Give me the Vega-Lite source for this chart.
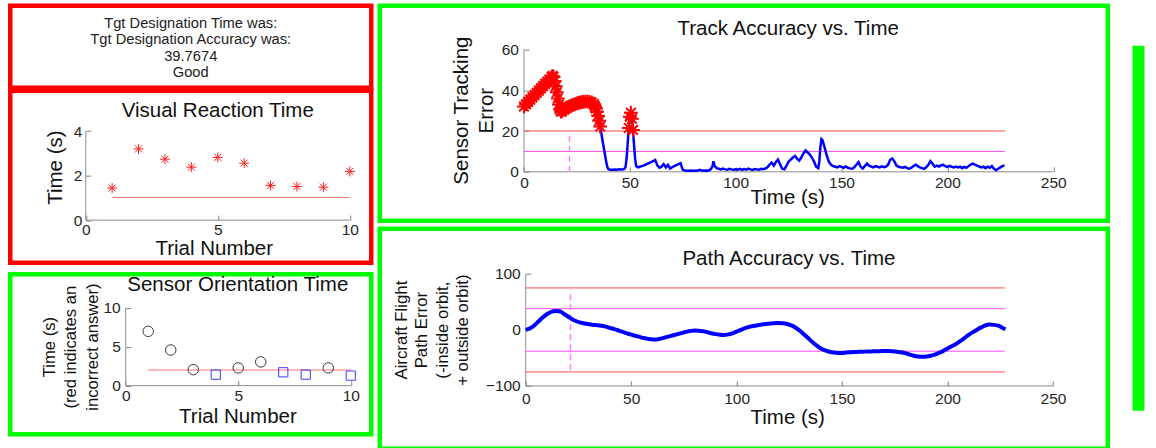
{
  "$schema": "https://vega.github.io/schema/vega-lite/v6.json",
  "padding": {"left": 7.25, "top": 3.25, "right": 6, "bottom": 0},
  "background": "white",
  "config": {
    "view": {"stroke": null},
    "font": "Liberation Sans",
    "axis": {"zindex": 1, "domain": false, "grid": false, "ticks": true, "tickSize": -5, "tickColor": "#808080", "tickWidth": 1, "labelFont": "Liberation Sans", "labelFontSize": 15.5, "labelColor": "#262626", "labelFlush": false, "labelOverlap": false, "titleFont": "Liberation Sans", "titleFontWeight": "normal", "titleColor": "#111111", "titleAlign": "center", "titleBaseline": "alphabetic", "titlePadding": 0},
    "axisY": {"titleAngle": 270}
  },
  "datasets": {
    "vrt": [{"trial":1,"time":1.44},{"trial":2,"time":3.2},{"trial":3,"time":2.74},{"trial":4,"time":2.38},{"trial":5,"time":2.82},{"trial":6,"time":2.56},{"trial":7,"time":1.56},{"trial":8,"time":1.51},{"trial":9,"time":1.48},{"trial":10,"time":2.19}],
    "sot": [{"trial":1,"time":6.96,"group":"A"},{"trial":2,"time":4.57,"group":"A"},{"trial":3,"time":2.05,"group":"A"},{"trial":4,"time":1.41,"group":"B"},{"trial":5,"time":2.27,"group":"A"},{"trial":6,"time":3.04,"group":"A"},{"trial":7,"time":1.71,"group":"B"},{"trial":8,"time":1.41,"group":"B"},{"trial":9,"time":2.27,"group":"A"},{"trial":10,"time":1.28,"group":"B"}],
    "track": [
      {"t":0,"e":32.0},{"t":1,"e":33.1},{"t":2,"e":34.3},{"t":3,"e":35.4},{"t":4,"e":36.5},{"t":5,"e":37.6},{"t":6,"e":38.7},{"t":7,"e":39.8},{"t":8,"e":40.9},{"t":9,"e":42.0},{"t":10,"e":43.1},{"t":11,"e":44.2},{"t":12,"e":45.3},{"t":13,"e":46.4},{"t":13.5,"e":47.0},{"t":14,"e":46.5},{"t":14.5,"e":44.5},{"t":15,"e":42.0},{"t":15.5,"e":39.0},{"t":16,"e":36.0},{"t":16.5,"e":33.0},{"t":17,"e":30.5},{"t":17.5,"e":29.5},{"t":18,"e":29.8},{"t":19,"e":30.5},{"t":20,"e":31.2},{"t":21,"e":31.8},{"t":22,"e":32.3},{"t":23,"e":32.8},{"t":24,"e":33.2},{"t":25,"e":33.6},{"t":26,"e":33.9},{"t":27,"e":34.1},{"t":28,"e":34.3},{"t":29,"e":34.4},{"t":30,"e":34.4},{"t":31,"e":34.3},{"t":32,"e":34.0},{"t":33,"e":33.2},{"t":33.5,"e":32.2},{"t":34,"e":31.0},{"t":34.5,"e":29.5},{"t":35,"e":27.5},{"t":35.5,"e":25.0},{"t":36,"e":22.2},{"t":36.5,"e":19.2},{"t":37,"e":16.0},{"t":37.5,"e":13.0},{"t":38,"e":10.0},{"t":38.5,"e":7.0},{"t":39,"e":4.0},{"t":39.5,"e":2.0},{"t":40,"e":1.2},{"t":41,"e":1.0},{"t":42,"e":1.0},{"t":43,"e":1.1},{"t":44,"e":1.0},{"t":45,"e":1.2},{"t":46,"e":1.1},{"t":47,"e":1.3},{"t":47.5,"e":1.5},{"t":48,"e":2.5},{"t":48.5,"e":7.0},{"t":49,"e":14.0},{"t":49.5,"e":21.5},{"t":50,"e":27.0},{"t":50.5,"e":29.0},{"t":51,"e":26.0},{"t":51.5,"e":20.5},{"t":52,"e":13.0},{"t":52.5,"e":6.5},{"t":53,"e":2.8},{"t":54,"e":2.2},{"t":55,"e":2.6},{"t":56,"e":2.9},{"t":57,"e":3.3},{"t":58,"e":3.8},{"t":59,"e":4.3},{"t":60,"e":4.8},{"t":61,"e":5.3},{"t":62,"e":5.8},{"t":62.5,"e":4.5},{"t":63,"e":3.2},{"t":64,"e":2.0},{"t":65,"e":2.5},{"t":66,"e":3.8},{"t":67,"e":2.2},{"t":68,"e":3.4},{"t":69,"e":1.6},{"t":70,"e":2.3},{"t":71,"e":2.8},{"t":72,"e":3.3},{"t":73,"e":3.8},{"t":74,"e":4.2},{"t":74.5,"e":2.5},{"t":75,"e":1.0},{"t":76,"e":0.6},{"t":77,"e":0.5},{"t":78,"e":0.5},{"t":79,"e":0.6},{"t":80,"e":0.5},{"t":81,"e":0.5},{"t":82,"e":0.6},{"t":83,"e":1.0},{"t":84,"e":0.6},{"t":85,"e":0.5},{"t":86,"e":0.7},{"t":87,"e":0.6},{"t":88,"e":1.0},{"t":89,"e":2.5},{"t":89.5,"e":5.2},{"t":90,"e":3.0},{"t":91,"e":1.8},{"t":92,"e":1.5},{"t":93,"e":1.2},{"t":94,"e":1.6},{"t":95,"e":1.2},{"t":96,"e":1.0},{"t":97,"e":1.5},{"t":98,"e":1.2},{"t":99,"e":1.0},{"t":100,"e":1.3},{"t":101,"e":1.1},{"t":102,"e":1.5},{"t":103,"e":1.0},{"t":104,"e":1.4},{"t":105,"e":1.1},{"t":106,"e":1.6},{"t":107,"e":1.2},{"t":108,"e":0.9},{"t":109,"e":1.4},{"t":110,"e":1.2},{"t":111,"e":1.0},{"t":112,"e":1.5},{"t":113,"e":1.3},{"t":114,"e":1.6},{"t":115,"e":2.2},{"t":116,"e":3.5},{"t":117,"e":4.5},{"t":118,"e":3.0},{"t":119,"e":4.8},{"t":120,"e":6.0},{"t":121,"e":3.5},{"t":122,"e":1.5},{"t":123,"e":1.2},{"t":124,"e":3.0},{"t":125,"e":5.0},{"t":126,"e":6.0},{"t":127,"e":7.0},{"t":128,"e":7.8},{"t":129,"e":6.5},{"t":130,"e":5.5},{"t":131,"e":7.0},{"t":132,"e":9.0},{"t":133,"e":10.5},{"t":134,"e":9.5},{"t":135,"e":8.5},{"t":136,"e":7.0},{"t":137,"e":5.0},{"t":138,"e":2.5},{"t":139,"e":1.8},{"t":139.5,"e":5.0},{"t":140,"e":12.0},{"t":140.5,"e":16.0},{"t":141,"e":15.5},{"t":142,"e":12.0},{"t":143,"e":8.0},{"t":144,"e":5.0},{"t":145,"e":3.5},{"t":146,"e":2.8},{"t":147,"e":2.5},{"t":148,"e":2.2},{"t":149,"e":2.8},{"t":150,"e":2.4},{"t":151,"e":2.0},{"t":152,"e":2.6},{"t":153,"e":2.0},{"t":154,"e":1.7},{"t":155,"e":1.5},{"t":156,"e":2.2},{"t":157,"e":3.5},{"t":158,"e":4.8},{"t":159,"e":2.5},{"t":160,"e":1.6},{"t":161,"e":2.8},{"t":162,"e":4.0},{"t":163,"e":3.0},{"t":164,"e":2.6},{"t":165,"e":2.2},{"t":166,"e":2.8},{"t":167,"e":2.5},{"t":168,"e":2.2},{"t":169,"e":2.7},{"t":170,"e":2.3},{"t":171,"e":2.6},{"t":172,"e":3.5},{"t":173,"e":6.0},{"t":174,"e":6.5},{"t":175,"e":5.0},{"t":176,"e":3.0},{"t":177,"e":2.5},{"t":178,"e":2.2},{"t":179,"e":2.0},{"t":180,"e":2.4},{"t":181,"e":1.8},{"t":182,"e":1.5},{"t":183,"e":2.0},{"t":184,"e":2.8},{"t":185,"e":3.5},{"t":186,"e":2.8},{"t":187,"e":2.2},{"t":188,"e":1.8},{"t":189,"e":1.5},{"t":190,"e":2.2},{"t":191,"e":3.5},{"t":192,"e":5.2},{"t":193,"e":4.0},{"t":194,"e":2.5},{"t":195,"e":3.0},{"t":196,"e":2.6},{"t":197,"e":3.2},{"t":198,"e":3.4},{"t":199,"e":2.8},{"t":200,"e":2.4},{"t":201,"e":2.9},{"t":202,"e":2.5},{"t":203,"e":2.2},{"t":204,"e":2.6},{"t":205,"e":2.2},{"t":206,"e":2.5},{"t":207,"e":1.8},{"t":208,"e":2.4},{"t":209,"e":2.0},{"t":210,"e":2.8},{"t":211,"e":3.6},{"t":212,"e":4.0},{"t":213,"e":3.5},{"t":214,"e":3.0},{"t":215,"e":2.6},{"t":216,"e":2.2},{"t":217,"e":2.5},{"t":218,"e":1.8},{"t":219,"e":2.5},{"t":220,"e":2.0},{"t":221,"e":2.8},{"t":222,"e":1.5},{"t":223,"e":0.8},{"t":224,"e":1.5},{"t":225,"e":2.2},{"t":226,"e":2.8},{"t":227,"e":3.2}
    ],
    "path": [
      {"t":0,"v":0},{"t":2,"v":3},{"t":4,"v":8},{"t":6,"v":15},{"t":8,"v":22},{"t":10,"v":28},{"t":12,"v":32},{"t":14,"v":34},{"t":16,"v":33.5},{"t":18,"v":29},{"t":20,"v":24},{"t":22,"v":19},{"t":24,"v":15.5},{"t":26,"v":13},{"t":28,"v":11.5},{"t":30,"v":10},{"t":32,"v":9},{"t":34,"v":8.5},{"t":36,"v":7.5},{"t":38,"v":6},{"t":40,"v":3.5},{"t":42,"v":1.5},{"t":44,"v":-1},{"t":46,"v":-3.5},{"t":48,"v":-6},{"t":50,"v":-8.5},{"t":52,"v":-10.5},{"t":54,"v":-12.5},{"t":56,"v":-14.5},{"t":58,"v":-16},{"t":60,"v":-17},{"t":62,"v":-17},{"t":64,"v":-15.5},{"t":66,"v":-13.5},{"t":68,"v":-11.5},{"t":70,"v":-9.5},{"t":72,"v":-7.5},{"t":74,"v":-5.5},{"t":76,"v":-3.5},{"t":78,"v":-2},{"t":80,"v":-1},{"t":82,"v":-1.5},{"t":84,"v":-2.5},{"t":86,"v":-4},{"t":88,"v":-6},{"t":90,"v":-7.5},{"t":92,"v":-8.5},{"t":94,"v":-9},{"t":96,"v":-8},{"t":98,"v":-6},{"t":100,"v":-3},{"t":102,"v":0},{"t":104,"v":3},{"t":106,"v":5.5},{"t":108,"v":7},{"t":110,"v":8.5},{"t":112,"v":9.5},{"t":114,"v":10.5},{"t":116,"v":11.5},{"t":118,"v":12},{"t":120,"v":12.5},{"t":122,"v":12},{"t":124,"v":10.5},{"t":126,"v":8},{"t":128,"v":4},{"t":130,"v":-1.5},{"t":132,"v":-8},{"t":134,"v":-15},{"t":136,"v":-22},{"t":138,"v":-28},{"t":140,"v":-33},{"t":142,"v":-36.5},{"t":144,"v":-39},{"t":146,"v":-40.5},{"t":148,"v":-41},{"t":150,"v":-41},{"t":152,"v":-40.5},{"t":154,"v":-40},{"t":156,"v":-39.5},{"t":158,"v":-39},{"t":160,"v":-39},{"t":162,"v":-38.5},{"t":164,"v":-38.5},{"t":166,"v":-38},{"t":168,"v":-38},{"t":170,"v":-37.5},{"t":172,"v":-37.5},{"t":174,"v":-38},{"t":176,"v":-39},{"t":178,"v":-40},{"t":180,"v":-41.5},{"t":182,"v":-44},{"t":184,"v":-46},{"t":186,"v":-47.5},{"t":188,"v":-48},{"t":190,"v":-47.5},{"t":192,"v":-46},{"t":194,"v":-44},{"t":196,"v":-41},{"t":198,"v":-37.5},{"t":200,"v":-33},{"t":202,"v":-29},{"t":204,"v":-25},{"t":206,"v":-20},{"t":208,"v":-14.5},{"t":210,"v":-9},{"t":212,"v":-4},{"t":214,"v":0.5},{"t":216,"v":4.5},{"t":218,"v":8},{"t":220,"v":9.5},{"t":222,"v":9},{"t":224,"v":7.5},{"t":226,"v":4},{"t":227.5,"v":1}
    ]
  },
  "hconcat": [
    {
      "hconcat": [
        {
          "vconcat": [
            {
              "vconcat": [
                {
                  "width": 361, "height": 82,
                  "view": {"stroke": "#ff0000", "strokeWidth": 4.5},
                  "data": {"values": [{"msg": "Tgt Designation Time was:\nTgt Designation Accuracy was:\n39.7674\nGood"}]},
                  "mark": {"type": "text", "lineBreak": "\n", "fontSize": 14.7, "lineHeight": 16.6, "baseline": "middle", "align": "center", "color": "#222222", "dy": -23},
                  "encoding": {"text": {"field": "msg", "type": "nominal"}}
                },
                {
                  "width": 361, "height": 172,
                  "view": {"stroke": "#ff0000", "strokeWidth": 4.5},
                  "layer": [
                    {"data": {"values": [{}]}, "mark": {"type": "rule", "color": "#8c8c8c"},
                     "encoding": {
                       "x": {"datum": 0, "scale": {"domain": [-2.86, 10.814], "nice": false, "zero": false}},
                       "x2": {"datum": 10},
                       "y": {"datum": 0, "scale": {"domain": [-1.91, 5.82], "nice": false, "zero": false}}
                     }},
                    {"data": {"values": [{}]}, "mark": {"type": "rule", "color": "#8c8c8c"},
                     "encoding": {
                       "x": {"datum": 0, "scale": {"domain": [-2.86, 10.814], "nice": false, "zero": false}},
                       "y": {"datum": 0, "scale": {"domain": [-1.91, 5.82], "nice": false, "zero": false}},
                       "y2": {"datum": 4}
                     }},
                    {"data": {"values": [{}]}, "mark": {"type": "rule", "color": "#ff7070"},
                     "encoding": {
                       "x": {"datum": 1, "scale": {"domain": [-2.86, 10.814], "nice": false, "zero": false}},
                       "x2": {"datum": 10},
                       "y": {"datum": 1.02, "scale": {"domain": [-1.91, 5.82], "nice": false, "zero": false}}
                     }},
                    {"data": {"name": "vrt"},
                     "mark": {"type": "point", "shape": "M-1,0L1,0M0,-1L0,1M-0.7,-0.7L0.7,0.7M-0.7,0.7L0.7,-0.7", "size": 100, "filled": false, "color": "#ff2020", "strokeWidth": 1, "opacity": 1},
                     "encoding": {
                       "x": {"field": "trial", "type": "quantitative", "scale": {"domain": [-2.86, 10.814], "nice": false, "zero": false}, "axis": {"values": [0, 5, 10], "offset": -42.5, "labelPadding": 7.5, "title": "Trial Number", "titleX": 203.5, "titleY": 34.5, "titleFontSize": 20.5}},
                       "y": {"field": "time", "type": "quantitative", "scale": {"domain": [-1.91, 5.82], "nice": false, "zero": false}, "axis": {"values": [0, 2, 4], "offset": -75.5, "labelPadding": 9, "title": "Time (s)", "titleX": -24.5, "titleY": 76.5, "titleFontSize": 20.5}}
                     }},
                    {"data": {"values": [{}]},
                     "mark": {"type": "text", "text": "Visual Reaction Time", "fontSize": 20.5, "baseline": "alphabetic", "align": "center", "color": "#111111"},
                     "encoding": {
                       "x": {"datum": 5, "scale": {"domain": [-2.86, 10.814], "nice": false, "zero": false}},
                       "y": {"datum": 4.616, "scale": {"domain": [-1.91, 5.82], "nice": false, "zero": false}}
                     }}
                  ]
                }
              ],
              "spacing": -4.5
            },
            {
              "width": 361, "height": 160,
              "view": {"stroke": "#00ff00", "strokeWidth": 4.5},
              "layer": [
                {"data": {"values": [{}]}, "mark": {"type": "rule", "color": "#8c8c8c"},
                 "encoding": {
                   "x": {"datum": 0, "scale": {"domain": [-5.133, 10.911], "nice": false, "zero": false}},
                   "x2": {"datum": 10},
                   "y": {"datum": 0, "scale": {"domain": [-6.218, 14.295], "nice": false, "zero": false}}
                 }},
                {"data": {"values": [{}]}, "mark": {"type": "rule", "color": "#8c8c8c"},
                 "encoding": {
                   "x": {"datum": 0, "scale": {"domain": [-5.133, 10.911], "nice": false, "zero": false}},
                   "y": {"datum": 0, "scale": {"domain": [-6.218, 14.295], "nice": false, "zero": false}},
                   "y2": {"datum": 10}
                 }},
                {"data": {"values": [{}]}, "mark": {"type": "rule", "color": "#ff7070"},
                 "encoding": {
                   "x": {"datum": 1, "scale": {"domain": [-5.133, 10.911], "nice": false, "zero": false}},
                   "x2": {"datum": 10},
                   "y": {"datum": 2, "scale": {"domain": [-6.218, 14.295], "nice": false, "zero": false}}
                 }},
                {"data": {"name": "sot"}, "transform": [{"filter": "datum.group === 'A'"}],
                 "mark": {"type": "point", "shape": "circle", "size": 110, "filled": false, "color": "#3a3a3a", "strokeWidth": 1, "opacity": 1},
                 "encoding": {
                   "x": {"field": "trial", "type": "quantitative", "scale": {"domain": [-5.133, 10.911], "nice": false, "zero": false}, "axis": {"values": [0, 5, 10], "offset": -48.5, "labelPadding": 8, "title": "Trial Number", "titleX": 227.2, "titleY": 37, "titleFontSize": 20.5}},
                   "y": {"field": "time", "type": "quantitative", "scale": {"domain": [-6.218, 14.295], "nice": false, "zero": false}, "axis": {"values": [0, 5, 10], "offset": -115.5, "labelPadding": 10.5, "title": ["Time (s)", "(red indicates an", "incorrect answer)"], "titleX": -71.4, "titleY": 72.5, "titleFontSize": 16.6, "titleLineHeight": 21.6}}
                 }},
                {"data": {"name": "sot"}, "transform": [{"filter": "datum.group === 'B'"}],
                 "mark": {"type": "point", "shape": "square", "size": 85, "filled": false, "color": "#3c3cff", "strokeWidth": 1, "opacity": 1},
                 "encoding": {
                   "x": {"field": "trial", "type": "quantitative", "scale": {"domain": [-5.133, 10.911], "nice": false, "zero": false}},
                   "y": {"field": "time", "type": "quantitative", "scale": {"domain": [-6.218, 14.295], "nice": false, "zero": false}}
                 }},
                {"data": {"values": [{}]},
                 "mark": {"type": "text", "text": "Sensor Orientation Time", "fontSize": 20.5, "baseline": "alphabetic", "align": "center", "color": "#111111"},
                 "encoding": {
                   "x": {"datum": 4.98, "scale": {"domain": [-5.133, 10.911], "nice": false, "zero": false}},
                   "y": {"datum": 12.15, "scale": {"domain": [-6.218, 14.295], "nice": false, "zero": false}}
                 }}
              ]
            }
          ],
          "spacing": 5.5
        },
        {
          "vconcat": [
            {
              "width": 728, "height": 215,
              "view": {"stroke": "#00ff00", "strokeWidth": 4.5},
              "layer": [
                {"data": {"values": [{}]}, "mark": {"type": "rule", "color": "#8c8c8c"},
                 "encoding": {
                   "x": {"datum": 0, "scale": {"domain": [-68.12, 275.74], "nice": false, "zero": false}},
                   "x2": {"datum": 250},
                   "y": {"datum": 0, "scale": {"domain": [-23.92, 81.47], "nice": false, "zero": false}}
                 }},
                {"data": {"values": [{}]}, "mark": {"type": "rule", "color": "#8c8c8c"},
                 "encoding": {
                   "x": {"datum": 0, "scale": {"domain": [-68.12, 275.74], "nice": false, "zero": false}},
                   "y": {"datum": 0, "scale": {"domain": [-23.92, 81.47], "nice": false, "zero": false}},
                   "y2": {"datum": 60}
                 }},
                {"data": {"values": [{}]}, "mark": {"type": "rule", "color": "#ff4d4d"},
                 "encoding": {
                   "x": {"datum": 0, "scale": {"domain": [-68.12, 275.74], "nice": false, "zero": false}},
                   "x2": {"datum": 227.2},
                   "y": {"datum": 20, "scale": {"domain": [-23.92, 81.47], "nice": false, "zero": false}}
                 }},
                {"data": {"values": [{}]}, "mark": {"type": "rule", "color": "#ff4dff"},
                 "encoding": {
                   "x": {"datum": 0, "scale": {"domain": [-68.12, 275.74], "nice": false, "zero": false}},
                   "x2": {"datum": 227.2},
                   "y": {"datum": 10, "scale": {"domain": [-23.92, 81.47], "nice": false, "zero": false}}
                 }},
                {"data": {"values": [{}]}, "mark": {"type": "rule", "color": "#ff80ff", "strokeDash": [6, 4], "strokeWidth": 1.5},
                 "encoding": {
                   "x": {"datum": 21.5, "scale": {"domain": [-68.12, 275.74], "nice": false, "zero": false}},
                   "y": {"datum": 0, "scale": {"domain": [-23.92, 81.47], "nice": false, "zero": false}},
                   "y2": {"datum": 20}
                 }},
                {"data": {"name": "track"},
                 "mark": {"type": "line", "color": "#0000ff", "strokeWidth": 2.5},
                 "encoding": {
                   "x": {"field": "t", "type": "quantitative", "scale": {"domain": [-68.12, 275.74], "nice": false, "zero": false}, "axis": {"values": [0, 50, 100, 150, 200, 250], "offset": -48.8, "labelPadding": 9, "title": "Time (s)", "titleX": 407.5, "titleY": 31.6, "titleFontSize": 20.5}},
                   "y": {"field": "e", "type": "quantitative", "scale": {"domain": [-23.92, 81.47], "nice": false, "zero": false}, "axis": {"values": [0, 20, 40, 60], "offset": -144.2, "labelPadding": 10.5, "title": ["Sensor Tracking", "Error"], "titleX": -56.2, "titleY": 104.5, "titleFontSize": 20.5, "titleLineHeight": 25}}
                 }},
                {"data": {"name": "track"}, "transform": [{"filter": "datum.e > 20"}],
                 "mark": {"type": "point", "shape": "M-1,0L1,0M0,-1L0,1M-0.7,-0.7L0.7,0.7M-0.7,0.7L0.7,-0.7", "size": 190, "filled": false, "color": "#ff0000", "strokeWidth": 2, "opacity": 1},
                 "encoding": {
                   "x": {"field": "t", "type": "quantitative", "scale": {"domain": [-68.12, 275.74], "nice": false, "zero": false}},
                   "y": {"field": "e", "type": "quantitative", "scale": {"domain": [-23.92, 81.47], "nice": false, "zero": false}}
                 }},
                {"data": {"values": [{}]},
                 "mark": {"type": "text", "text": "Track Accuracy vs. Time", "fontSize": 20.5, "baseline": "alphabetic", "align": "center", "color": "#111111"},
                 "encoding": {
                   "x": {"datum": 124.8, "scale": {"domain": [-68.12, 275.74], "nice": false, "zero": false}},
                   "y": {"datum": 67.0, "scale": {"domain": [-23.92, 81.47], "nice": false, "zero": false}}
                 }}
              ]
            },
            {
              "width": 728, "height": 220,
              "view": {"stroke": "#00ff00", "strokeWidth": 4.5},
              "layer": [
                {"data": {"values": [{}]}, "mark": {"type": "rule", "color": "#8c8c8c"},
                 "encoding": {
                   "x": {"datum": 0, "scale": {"domain": [-69.23, 275.99], "nice": false, "zero": false}},
                   "x2": {"datum": 250},
                   "y": {"datum": -100, "scale": {"domain": [-211.96, 180.89], "nice": false, "zero": false}}
                 }},
                {"data": {"values": [{}]}, "mark": {"type": "rule", "color": "#8c8c8c"},
                 "encoding": {
                   "x": {"datum": 0, "scale": {"domain": [-69.23, 275.99], "nice": false, "zero": false}},
                   "y": {"datum": -100, "scale": {"domain": [-211.96, 180.89], "nice": false, "zero": false}},
                   "y2": {"datum": 100}
                 }},
                {"data": {"values": [{}]}, "mark": {"type": "rule", "color": "#ff4d4d"},
                 "encoding": {
                   "x": {"datum": 0, "scale": {"domain": [-69.23, 275.99], "nice": false, "zero": false}},
                   "x2": {"datum": 227.2},
                   "y": {"datum": 75, "scale": {"domain": [-211.96, 180.89], "nice": false, "zero": false}}
                 }},
                {"data": {"values": [{}]}, "mark": {"type": "rule", "color": "#ff4d4d"},
                 "encoding": {
                   "x": {"datum": 0, "scale": {"domain": [-69.23, 275.99], "nice": false, "zero": false}},
                   "x2": {"datum": 227.2},
                   "y": {"datum": -75, "scale": {"domain": [-211.96, 180.89], "nice": false, "zero": false}}
                 }},
                {"data": {"values": [{}]}, "mark": {"type": "rule", "color": "#ff4dff"},
                 "encoding": {
                   "x": {"datum": 0, "scale": {"domain": [-69.23, 275.99], "nice": false, "zero": false}},
                   "x2": {"datum": 227.2},
                   "y": {"datum": 38, "scale": {"domain": [-211.96, 180.89], "nice": false, "zero": false}}
                 }},
                {"data": {"values": [{}]}, "mark": {"type": "rule", "color": "#ff4dff"},
                 "encoding": {
                   "x": {"datum": 0, "scale": {"domain": [-69.23, 275.99], "nice": false, "zero": false}},
                   "x2": {"datum": 227.2},
                   "y": {"datum": -38, "scale": {"domain": [-211.96, 180.89], "nice": false, "zero": false}}
                 }},
                {"data": {"values": [{}]}, "mark": {"type": "rule", "color": "#ff80ff", "strokeDash": [6, 4], "strokeWidth": 1.5},
                 "encoding": {
                   "x": {"datum": 21.2, "scale": {"domain": [-69.23, 275.99], "nice": false, "zero": false}},
                   "y": {"datum": -72, "scale": {"domain": [-211.96, 180.89], "nice": false, "zero": false}},
                   "y2": {"datum": 72}
                 }},
                {"data": {"name": "path"},
                 "mark": {"type": "line", "color": "#0000ff", "strokeWidth": 4, "interpolate": "monotone"},
                 "encoding": {
                   "x": {"field": "t", "type": "quantitative", "scale": {"domain": [-69.23, 275.99], "nice": false, "zero": false}, "axis": {"values": [0, 50, 100, 150, 200, 250], "offset": -62.7, "labelPadding": 11, "title": "Time (s)", "titleX": 407.5, "titleY": 38, "titleFontSize": 20.5}},
                   "y": {"field": "v", "type": "quantitative", "scale": {"domain": [-211.96, 180.89], "nice": false, "zero": false}, "axis": {"values": [-100, 0, 100], "offset": -146, "labelPadding": 10.5, "title": ["Aircraft Flight", "Path Error", "(-inside orbit,", "+ outside orbit)"], "titleX": -119.3, "titleY": 101, "titleFontSize": 16.8, "titleLineHeight": 20.3}}
                 }},
                {"data": {"values": [{}]},
                 "mark": {"type": "text", "text": "Path Accuracy vs. Time", "fontSize": 20.5, "baseline": "alphabetic", "align": "center", "color": "#111111"},
                 "encoding": {
                   "x": {"datum": 124.8, "scale": {"domain": [-69.23, 275.99], "nice": false, "zero": false}},
                   "y": {"datum": 116, "scale": {"domain": [-211.96, 180.89], "nice": false, "zero": false}}
                 }}
              ]
            }
          ],
          "spacing": 2
        }
      ],
      "spacing": 2.5
    },
    {
      "width": 12, "height": 365,
      "view": {"fill": "#00ff00", "stroke": null},
      "data": {"values": [{}]},
      "mark": {"type": "text", "text": " "}
    }
  ],
  "spacing": 22.25, "center": true
}
